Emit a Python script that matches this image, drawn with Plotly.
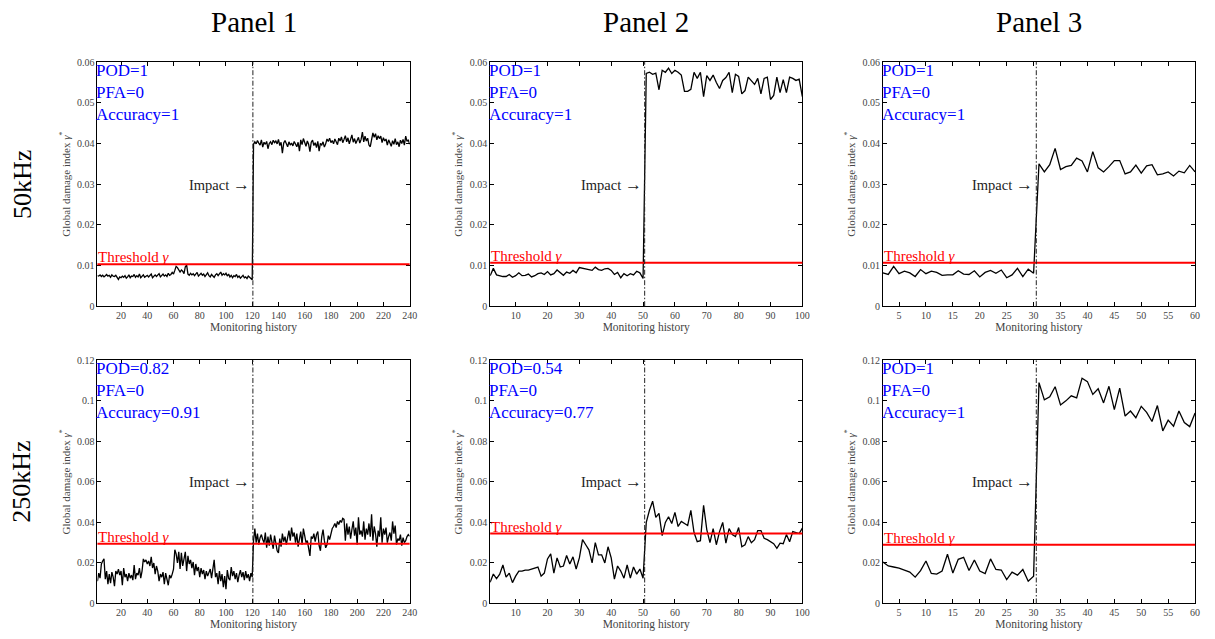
import plotly.graph_objects as go
from plotly.subplots import make_subplots

# ---------------------------------------------------------------- data
# 50 kHz row
p1_pre = [0.0075, 0.0074, 0.0077, 0.0073, 0.0076, 0.0072, 0.0075, 0.0078, 0.0074, 0.0076,
          0.0071, 0.0077, 0.0074, 0.0073, 0.0076, 0.0069, 0.0066, 0.0072, 0.0070,
          0.0074, 0.0071, 0.0075, 0.0069, 0.0072, 0.0077, 0.0070, 0.0074, 0.0073, 0.0078,
          0.0071, 0.0075, 0.0072, 0.0079, 0.0070, 0.0074, 0.0077, 0.0071, 0.0073, 0.0076,
          0.0072, 0.0075, 0.0079, 0.0070, 0.0074, 0.0077, 0.0073, 0.0076, 0.0080, 0.0072,
          0.0075, 0.0079, 0.0074, 0.0077, 0.0073, 0.0081, 0.0076, 0.0078, 0.0083, 0.0079,
          0.0088, 0.0098, 0.0095, 0.0090, 0.0084, 0.0089, 0.0086, 0.0080, 0.0097, 0.0101,
          0.0079, 0.0076, 0.0081, 0.0077, 0.0080, 0.0075, 0.0079, 0.0083, 0.0074, 0.0078,
          0.0081, 0.0076, 0.0079, 0.0073, 0.0077, 0.0082, 0.0075, 0.0072, 0.0078, 0.0074,
          0.0071, 0.0077, 0.0080, 0.0075, 0.0079, 0.0084, 0.0076, 0.0080, 0.0077, 0.0081,
          0.0074, 0.0079, 0.0072, 0.0076, 0.0070, 0.0075, 0.0073, 0.0078, 0.0071, 0.0074,
          0.0069, 0.0073, 0.0076, 0.0070, 0.0072, 0.0068, 0.0074, 0.0071, 0.0067, 0.0065]
p1_post = [0.0398, 0.0404, 0.0399, 0.0407, 0.0401, 0.0396, 0.0409, 0.0391, 0.0403, 0.0398,
           0.0405, 0.0387, 0.0400, 0.0404, 0.0397, 0.0408, 0.0402, 0.0406, 0.0399, 0.0410,
           0.0395, 0.0403, 0.0376, 0.0401, 0.0407, 0.0398, 0.0392, 0.0404, 0.0396, 0.0401,
           0.0394, 0.0405, 0.0399, 0.0392, 0.0403, 0.0381, 0.0409, 0.0397, 0.0412, 0.0400,
           0.0393, 0.0406, 0.0398, 0.0380, 0.0403, 0.0408, 0.0395, 0.0402, 0.0390, 0.0405,
           0.0381, 0.0400, 0.0396, 0.0404, 0.0391, 0.0399, 0.0411, 0.0405, 0.0413, 0.0402,
           0.0407, 0.0399, 0.0411, 0.0404, 0.0397, 0.0413, 0.0406, 0.0416, 0.0402, 0.0410,
           0.0419, 0.0404, 0.0414, 0.0399, 0.0408, 0.0421, 0.0403, 0.0412, 0.0400, 0.0409,
           0.0415, 0.0401, 0.0410, 0.0428, 0.0404, 0.0418, 0.0406, 0.0413, 0.0396, 0.0392,
           0.0411, 0.0426, 0.0415, 0.0424, 0.0409, 0.0419, 0.0412, 0.0418, 0.0402, 0.0414,
           0.0406, 0.0411, 0.0396, 0.0409, 0.0401, 0.0393, 0.0407, 0.0398, 0.0412, 0.0397,
           0.0404, 0.0392, 0.0408, 0.0400, 0.0410, 0.0396, 0.0418, 0.0405, 0.0409, 0.0398]

p2_pre = [0.0075, 0.0093, 0.0077, 0.0075, 0.0073, 0.0073, 0.0078, 0.0071, 0.0075, 0.0082,
          0.0075, 0.0076, 0.0079, 0.0072, 0.0075, 0.0080, 0.0082, 0.0078, 0.0085, 0.0077,
          0.0080, 0.0089, 0.0083, 0.0076, 0.0084, 0.0081, 0.0088, 0.0082, 0.0095, 0.0093,
          0.0092, 0.0090, 0.0088, 0.0096, 0.0090, 0.0088, 0.0092, 0.0093, 0.0088, 0.0078,
          0.0083, 0.0070, 0.0080, 0.0075, 0.0080, 0.0077, 0.0086, 0.0082, 0.0068]
p2_post = [0.0572, 0.0575, 0.0570, 0.0573, 0.0532, 0.0580, 0.0575, 0.0585, 0.0572, 0.0580,
           0.0575, 0.0568, 0.0528, 0.0528, 0.0533, 0.0575, 0.0560, 0.0575, 0.0515, 0.0567,
           0.0555, 0.0568, 0.0550, 0.0535, 0.0555, 0.0562, 0.0575, 0.0525, 0.0570, 0.0565,
           0.0522, 0.0530, 0.0563, 0.0555, 0.0545, 0.0560, 0.0522, 0.0560, 0.0563, 0.0508,
           0.0518, 0.0563, 0.0525, 0.0557, 0.0525, 0.0563, 0.0560, 0.0555, 0.0558, 0.0515]

p3_pre = [0.0082, 0.0078, 0.0098, 0.0080, 0.0086, 0.0082, 0.0073, 0.0090, 0.0080, 0.0086,
          0.0083, 0.0076, 0.0077, 0.0077, 0.0087, 0.0079, 0.0078, 0.0087, 0.0072, 0.0083,
          0.0088, 0.0081, 0.0089, 0.0070, 0.0077, 0.0093, 0.0073, 0.0091, 0.0081]
p3_post = [0.0350, 0.0330, 0.0348, 0.0388, 0.0336, 0.0343, 0.0346, 0.0364, 0.0357, 0.0330,
           0.0380, 0.0340, 0.0330, 0.0343, 0.0358, 0.0358, 0.0325, 0.0330, 0.0347, 0.0327,
           0.0345, 0.0348, 0.0323, 0.0325, 0.0330, 0.0320, 0.0332, 0.0328, 0.0346, 0.0330]

# 250 kHz row
p4_pre = [0.0110, 0.0150, 0.0125, 0.0195, 0.0210, 0.0220, 0.0120, 0.0160, 0.0095, 0.0145,
          0.0100, 0.0155, 0.0130, 0.0085, 0.0160, 0.0145, 0.0170, 0.0140, 0.0160,
          0.0090, 0.0175, 0.0130, 0.0145, 0.0110, 0.0150, 0.0125, 0.0140, 0.0115, 0.0190,
          0.0120, 0.0150, 0.0140, 0.0175, 0.0125, 0.0160, 0.0220, 0.0205, 0.0215, 0.0195,
          0.0210, 0.0185, 0.0230, 0.0175, 0.0200, 0.0145, 0.0185, 0.0160, 0.0110, 0.0145,
          0.0130, 0.0155, 0.0095, 0.0150, 0.0120, 0.0090, 0.0140, 0.0125, 0.0145, 0.0170,
          0.0265, 0.0245, 0.0200, 0.0255, 0.0170, 0.0250, 0.0185, 0.0215, 0.0255, 0.0160,
          0.0235, 0.0195, 0.0215, 0.0175, 0.0205, 0.0140, 0.0195, 0.0160, 0.0180, 0.0130,
          0.0175, 0.0145, 0.0165, 0.0120, 0.0160, 0.0135, 0.0150, 0.0170, 0.0125, 0.0165,
          0.0215, 0.0130, 0.0150, 0.0095, 0.0160, 0.0110, 0.0145, 0.0080, 0.0135, 0.0070,
          0.0165, 0.0125, 0.0115, 0.0180, 0.0135, 0.0160, 0.0120, 0.0150, 0.0105, 0.0140,
          0.0165, 0.0130, 0.0155, 0.0115, 0.0160, 0.0125, 0.0145, 0.0110, 0.0150, 0.0130]
p4_post = [0.0310, 0.0370, 0.0300, 0.0345, 0.0290, 0.0325, 0.0340, 0.0315, 0.0300, 0.0350,
           0.0275, 0.0330, 0.0285, 0.0340, 0.0295, 0.0270, 0.0335, 0.0300, 0.0260, 0.0250,
           0.0320, 0.0280, 0.0345, 0.0305, 0.0330, 0.0290, 0.0335, 0.0360, 0.0310, 0.0375,
           0.0330, 0.0350, 0.0300, 0.0345, 0.0280, 0.0325, 0.0355, 0.0290, 0.0370, 0.0335,
           0.0300, 0.0310, 0.0265, 0.0235, 0.0330, 0.0320, 0.0345, 0.0305, 0.0340, 0.0355,
           0.0285, 0.0260, 0.0330, 0.0365, 0.0310, 0.0275, 0.0290, 0.0335, 0.0315, 0.0350,
           0.0370, 0.0380, 0.0395, 0.0375, 0.0405, 0.0390, 0.0410, 0.0400, 0.0420, 0.0415,
           0.0310, 0.0395, 0.0340, 0.0380, 0.0320, 0.0365, 0.0405, 0.0335, 0.0375, 0.0290,
           0.0425, 0.0340, 0.0360, 0.0330, 0.0405, 0.0315, 0.0370, 0.0340, 0.0395, 0.0330,
           0.0440, 0.0310, 0.0380, 0.0345, 0.0280, 0.0360, 0.0330, 0.0425, 0.0300, 0.0370,
           0.0340, 0.0375, 0.0300, 0.0330, 0.0350, 0.0310, 0.0405, 0.0345, 0.0385, 0.0290,
           0.0320, 0.0310, 0.0340, 0.0285, 0.0325, 0.0300, 0.0310, 0.0330, 0.0340, 0.0332]

p5_pre = [0.0105, 0.0145, 0.0123, 0.0145, 0.0190, 0.0130, 0.0150, 0.0103, 0.0135, 0.0160,
          0.0160, 0.0165, 0.0165, 0.0170, 0.0178, 0.0180, 0.0135, 0.0150, 0.0220, 0.0245,
          0.0150, 0.0225, 0.0180, 0.0185, 0.0237, 0.0195, 0.0230, 0.0170, 0.0225, 0.0315,
          0.0290, 0.0265, 0.0200, 0.0300, 0.0240, 0.0240, 0.0200, 0.0280, 0.0225, 0.0120,
          0.0185, 0.0160, 0.0125, 0.0190, 0.0125, 0.0180, 0.0145, 0.0170, 0.0125]
p5_post = [0.0400, 0.0460, 0.0505, 0.0425, 0.0445, 0.0335, 0.0400, 0.0428, 0.0395, 0.0450,
           0.0380, 0.0405, 0.0395, 0.0385, 0.0460, 0.0350, 0.0305, 0.0310, 0.0485, 0.0365,
           0.0300, 0.0370, 0.0290, 0.0355, 0.0400, 0.0298, 0.0370, 0.0340, 0.0330, 0.0375,
           0.0280, 0.0290, 0.0330, 0.0300, 0.0315, 0.0360, 0.0360, 0.0322, 0.0315, 0.0305,
           0.0295, 0.0272, 0.0298, 0.0295, 0.0340, 0.0305, 0.0355, 0.0350, 0.0345, 0.0372]

p6_pre = [0.0205, 0.0185, 0.0180, 0.0175, 0.0165, 0.0155, 0.0130, 0.0162, 0.0210, 0.0148,
          0.0145, 0.0160, 0.0243, 0.0150, 0.0218, 0.0228, 0.0163, 0.0215, 0.0160, 0.0148,
          0.0220, 0.0168, 0.0165, 0.0118, 0.0155, 0.0140, 0.0168, 0.0110, 0.0135]
p6_post = [0.1090, 0.1005, 0.1020, 0.1070, 0.0980, 0.1000, 0.1025, 0.1015, 0.1112, 0.1095,
           0.1032, 0.1060, 0.0990, 0.1072, 0.0957, 0.1063, 0.0925, 0.0950, 0.0917, 0.0973,
           0.0943, 0.0898, 0.0977, 0.0852, 0.0905, 0.0875, 0.0950, 0.0893, 0.0873, 0.0940]

series = [[p1_pre + p1_post, p2_pre + p2_post, p3_pre + p3_post],
          [p4_pre + p4_post, p5_pre + p5_post, p6_pre + p6_post]]
n_records = [240, 100, 60]
impact_at = [120.5, 50.5, 30.5]
x_dticks = [20, 10, 5]
thresholds = [[0.0103, 0.0107, 0.0107],
              [0.0295, 0.0345, 0.0290]]
y_max = [0.06, 0.12]
y_dtick = [0.01, 0.02]
impact_label_y = [0.03, 0.06]
pod = [["1", "1", "1"], ["0.82", "0.54", "1"]]
pfa = [["0", "0", "0"], ["0", "0", "0"]]
accuracy = [["1", "1", "1"], ["0.91", "0.77", "1"]]
col_titles = ["Panel 1", "Panel 2", "Panel 3"]
row_titles = ["50kHz", "250kHz"]

# ---------------------------------------------------------------- layout
W, H = 1215, 639
col_px = [(98, 412), (493, 807), (888, 1202)]
row_px = [(58, 306), (361, 608)]
SERIF = "Liberation Serif"

fig = make_subplots(rows=2, cols=3)

for r in range(2):
    for c in range(3):
        k = r * 3 + c + 1
        sfx = "" if k == 1 else str(k)
        ys = series[r][c]
        xs = list(range(2, 2 + len(ys)))
        fig.add_trace(go.Scatter(x=xs, y=ys, mode="lines",
                                 line=dict(color="black", width=1.3),
                                 showlegend=False, hoverinfo="skip"),
                      row=r + 1, col=c + 1)
        x0, x1 = col_px[c]
        y0, y1 = row_px[r]
        axis_common = dict(showline=True, linecolor="black", linewidth=1, mirror="ticks",
                           ticks="inside", ticklen=4, tickcolor="black", showgrid=False,
                           zeroline=False,
                           tickfont=dict(family=SERIF, size=10, color="#444"))
        fig.update_layout(**{
            "xaxis" + sfx: dict(domain=[x0 / W, x1 / W], range=[2, n_records[c]],
                                tick0=0, dtick=x_dticks[c],
                                title=dict(text="Monitoring history", standoff=2,
                                           font=dict(family=SERIF, size=11.5, color="#444")),
                                **axis_common),
            "yaxis" + sfx: dict(domain=[1 - y1 / H, 1 - y0 / H], range=[0, y_max[r]],
                                tick0=0, dtick=y_dtick[r],
                                title=dict(text="Global damage index <i>γ</i><sup>*</sup>",
                                           standoff=4,
                                           font=dict(family=SERIF, size=11, color="#444")),
                                **axis_common),
        })
        xr, yr = "x" + sfx, "y" + sfx
        # threshold line
        fig.add_shape(type="line", xref=xr + " domain", yref=yr, x0=0, x1=1,
                      y0=thresholds[r][c], y1=thresholds[r][c],
                      line=dict(color="#ff0000", width=2))
        # impact marker
        fig.add_shape(type="line", xref=xr, yref=yr + " domain",
                      x0=impact_at[c], x1=impact_at[c], y0=0, y1=1,
                      line=dict(color="#222", width=1, dash="5px,2px,1.5px,2px"))
        fig.add_annotation(xref=xr, yref=yr, x=impact_at[c], y=impact_label_y[r],
                           text="Impact <span style='font-size:17px'>→</span>",
                           showarrow=False, xanchor="right",
                           yanchor="middle", xshift=-1,
                           font=dict(family=SERIF, size=14.5, color="#222"))
        fig.add_annotation(xref=xr + " domain", yref=yr, x=0, y=thresholds[r][c],
                           text="Threshold <i>γ</i>", showarrow=False, xanchor="left",
                           yanchor="bottom", yshift=-3, xshift=-1,
                           font=dict(family=SERIF, size=15, color="#ff0000"))
        # detection metrics
        metrics = "<br>".join([f"POD={pod[r][c]}", f"PFA={pfa[r][c]}",
                               f"Accuracy={accuracy[r][c]}"])
        fig.add_annotation(xref=xr + " domain", yref=yr + " domain",
                           x=0, y=1, text=metrics, showarrow=False, align="left",
                           xanchor="left", yanchor="top", xshift=-3, yshift=3,
                           font=dict(family=SERIF, size=17, color="#0000ff"))

for c, t in enumerate(col_titles):
    fig.add_annotation(xref="paper", yref="paper", x=(col_px[c][0] + col_px[c][1]) / 2 / W,
                       y=1 - 17 / H, text=t, showarrow=False, xanchor="center",
                       yanchor="middle", font=dict(family=SERIF, size=29, color="black"))
for r, t in enumerate(row_titles):
    fig.add_annotation(xref="paper", yref="paper", x=22 / W,
                       y=1 - (row_px[r][0] + row_px[r][1]) / 2 / H, text=t,
                       showarrow=False, textangle=-90, xanchor="center", yanchor="middle",
                       font=dict(family=SERIF, size=26, color="black"))

fig.update_layout(width=W, height=H, margin=dict(l=0, r=0, t=0, b=0),
                  paper_bgcolor="white", plot_bgcolor="white",
                  font=dict(family=SERIF))

fig.write_html("out.html")
